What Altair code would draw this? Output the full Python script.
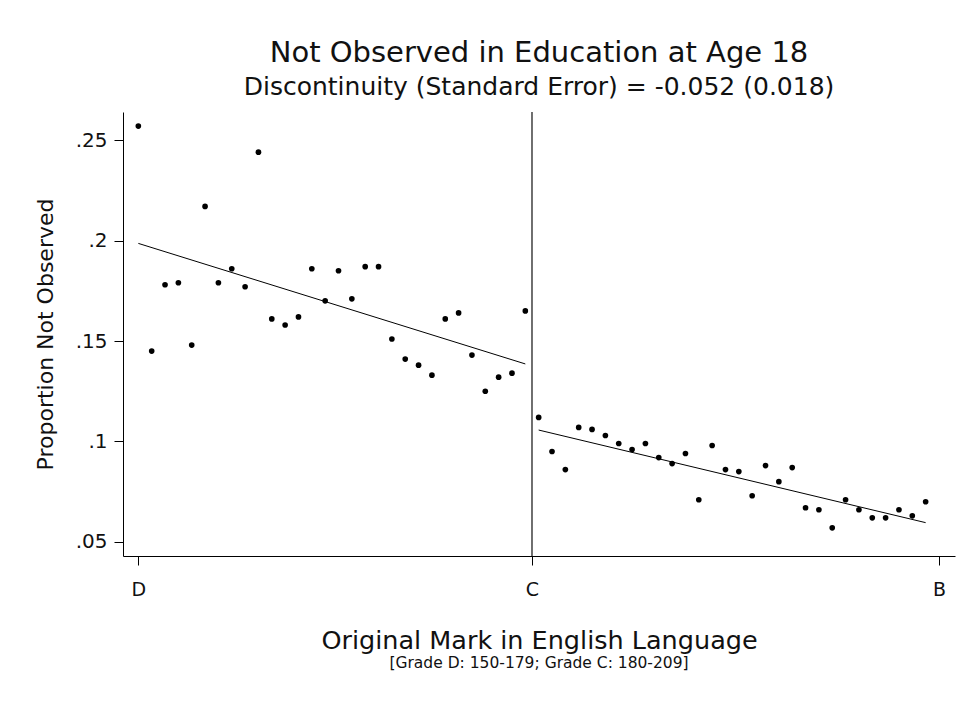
import altair as alt
import pandas as pd

# Data
marks_left = list(range(150, 180))
prop_left = [0.257, 0.145, 0.178, 0.179, 0.148, 0.217, 0.179, 0.186, 0.177, 0.244,
             0.161, 0.158, 0.162, 0.186, 0.170, 0.185, 0.171, 0.187, 0.187, 0.151,
             0.141, 0.138, 0.133, 0.161, 0.164, 0.143, 0.125, 0.132, 0.134, 0.165]
marks_right = list(range(180, 210))
prop_right = [0.112, 0.095, 0.086, 0.107, 0.106, 0.103, 0.099, 0.096, 0.099, 0.092,
              0.089, 0.094, 0.071, 0.098, 0.086, 0.085, 0.073, 0.088, 0.080, 0.087,
              0.067, 0.066, 0.057, 0.071, 0.066, 0.062, 0.062, 0.066, 0.063, 0.070]

fit_left_x = [150, 179]
fit_left_y = [0.1986, 0.1386]
fit_right_x = [180, 209]
fit_right_y = [0.1057, 0.0596]

cutoff = [179.5]
tick_values = [150, 179.5, 210]
tick_labels = ["D", "C", "B"]
y_ticks = [0.05, 0.10, 0.15, 0.20, 0.25]

title_text = "Not Observed in Education at Age 18"
subtitle_text = "Discontinuity (Standard Error) = -0.052 (0.018)"
x_title = "Original Mark in English Language"
x_note = "[Grade D: 150-179; Grade C: 180-209]"
y_title = "Proportion Not Observed"

FONT = "DejaVu Sans"
W, H = 832, 444
INK = "#111111"

pts = pd.DataFrame({"mark": marks_left + marks_right,
                    "prop": prop_left + prop_right})
fit = pd.DataFrame({"mark": fit_left_x + fit_right_x,
                    "prop": fit_left_y + fit_right_y,
                    "side": ["left", "left", "right", "right"]})
cut = pd.DataFrame({"mark": cutoff})
note = pd.DataFrame({"t": [x_note]})

label_expr = ("datum.value == %s ? '%s' : datum.value == %s ? '%s' : '%s'"
              % (tick_values[0], tick_labels[0], tick_values[1], tick_labels[1], tick_labels[2]))

xscale = alt.Scale(domain=[148.85, 211.2], nice=False, zero=False)
yscale = alt.Scale(domain=[0.043, 0.264], nice=False, zero=False)

xaxis = alt.Axis(values=tick_values, labelExpr=label_expr, title=x_title,
                 grid=False, domainColor="black", tickColor="black", domainWidth=1,
                 tickWidth=1, tickSize=9, labelPadding=15, labelFontSize=19,
                 labelFont=FONT, labelColor=INK, titleFont=FONT, titleFontSize=25.5,
                 titleFontWeight="normal", titleColor=INK, titlePadding=29,
                 labelAngle=0, labelFlush=False)
yaxis = alt.Axis(values=y_ticks, labelExpr="substring(format(datum.value, '~g'), 1)",
                 title=y_title, grid=False, domainColor="black", tickColor="black",
                 domainWidth=1, tickWidth=1, tickSize=9, labelPadding=7,
                 labelFontSize=20, labelFont=FONT, labelColor=INK, titleFont=FONT,
                 titleFontSize=22, titleFontWeight="normal", titleColor=INK,
                 titlePadding=18, labelFlush=False)

points = alt.Chart(pts).mark_circle(size=32, color="black", opacity=1).encode(
    x=alt.X("mark:Q", scale=xscale, axis=xaxis),
    y=alt.Y("prop:Q", scale=yscale, axis=yaxis),
)
lines = alt.Chart(fit).mark_line(color="black", strokeWidth=1).encode(
    x="mark:Q", y="prop:Q", detail="side:N")
vline = alt.Chart(cut).mark_rule(color="#222222", strokeWidth=1.3).encode(x="mark:Q")
note_txt = alt.Chart(note).mark_text(font=FONT, fontSize=15.5, color=INK,
                                     align="center", baseline="middle").encode(
    text="t:N", x=alt.value(W / 2), y=alt.value(551))

chart = alt.layer(vline, lines, points, note_txt).properties(
    width=W, height=H,
    background="white",
    title=alt.TitleParams(text=title_text, subtitle=subtitle_text, font=FONT,
                          fontSize=29, fontWeight="normal", color=INK,
                          subtitleFont=FONT, subtitleFontSize=25, subtitleColor=INK,
                          subtitlePadding=7, offset=11, anchor="middle"),
    padding={"left": 115, "top": 104, "right": 8, "bottom": 150},
    autosize=alt.AutoSizeParams(type="none"),
).configure_view(stroke=None)

chart.save("out.html", embed_options={"renderer": "svg", "actions": False})
